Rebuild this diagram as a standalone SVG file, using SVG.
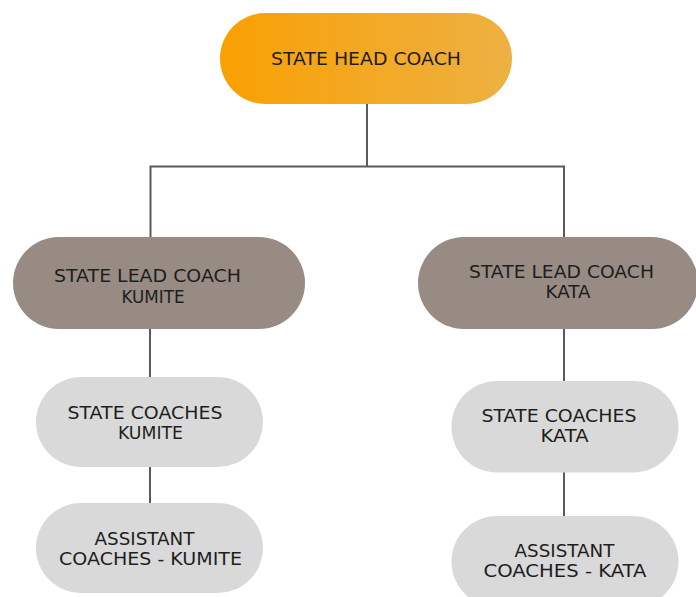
<svg xmlns="http://www.w3.org/2000/svg" width="696" height="597" viewBox="0 0 696 597">
<style>
text{font-family:"DejaVu Sans","Liberation Sans",sans-serif;font-size:17px;fill:#1e1e1e;text-anchor:middle;}
.lead{fill:#978B83;}
.sub{fill:#D9D9D9;}
.conn{stroke:#5a5a5a;stroke-width:2;fill:none;}
</style>
<defs>
<linearGradient id="og" x1="0" y1="0" x2="1" y2="0">
<stop offset="0" stop-color="#F9A003"/>
<stop offset="1" stop-color="#EDB142"/>
</linearGradient>
</defs>
<rect width="696" height="597" fill="#FFFFFF"/>
<g id="connectors">
<path class="conn" d="M367 104 V166.5 M150.5 238 V166.5 H564 V238"/>
<path class="conn" d="M150 329 V378"/>
<path class="conn" d="M150 467 V503"/>
<path class="conn" d="M564 329 V381"/>
<path class="conn" d="M564 472 V516"/>
</g>
<g id="state-head-coach">
<rect x="220" y="13" width="292" height="91" rx="45.5" fill="url(#og)"/>
<text x="366" y="65" textLength="190" lengthAdjust="spacingAndGlyphs">STATE HEAD COACH</text>
</g>
<g id="lead-kumite">
<rect class="lead" x="13" y="237" width="292" height="92" rx="46"/>
<text x="147.5" y="282" textLength="187" lengthAdjust="spacingAndGlyphs">STATE LEAD COACH</text>
<text x="153" y="302.5" textLength="63" lengthAdjust="spacingAndGlyphs">KUMITE</text>
</g>
<g id="lead-kata">
<rect class="lead" x="418" y="237" width="280" height="92" rx="46"/>
<text x="561.5" y="278" textLength="185" lengthAdjust="spacingAndGlyphs">STATE LEAD COACH</text>
<text x="568" y="298" textLength="45" lengthAdjust="spacingAndGlyphs">KATA</text>
</g>
<g id="coaches-kumite">
<rect class="sub" x="36" y="377" width="227" height="90" rx="45"/>
<text x="145" y="419" textLength="155" lengthAdjust="spacingAndGlyphs">STATE COACHES</text>
<text x="150.5" y="439" textLength="65" lengthAdjust="spacingAndGlyphs">KUMITE</text>
</g>
<g id="assistant-kumite">
<rect class="sub" x="36" y="503" width="227" height="90" rx="45"/>
<text x="144.5" y="545" textLength="100" lengthAdjust="spacingAndGlyphs">ASSISTANT</text>
<text x="150.5" y="565" textLength="183" lengthAdjust="spacingAndGlyphs">COACHES - KUMITE</text>
</g>
<g id="coaches-kata">
<rect class="sub" x="451.5" y="381" width="227" height="91.5" rx="45.5"/>
<text x="559" y="422" textLength="155" lengthAdjust="spacingAndGlyphs">STATE COACHES</text>
<text x="564.5" y="442" textLength="48" lengthAdjust="spacingAndGlyphs">KATA</text>
</g>
<g id="assistant-kata">
<rect class="sub" x="451.5" y="516" width="227" height="91" rx="45.5"/>
<text x="564.5" y="556.5" textLength="100" lengthAdjust="spacingAndGlyphs">ASSISTANT</text>
<text x="565" y="576.5" textLength="163" lengthAdjust="spacingAndGlyphs">COACHES - KATA</text>
</g>
</svg>
